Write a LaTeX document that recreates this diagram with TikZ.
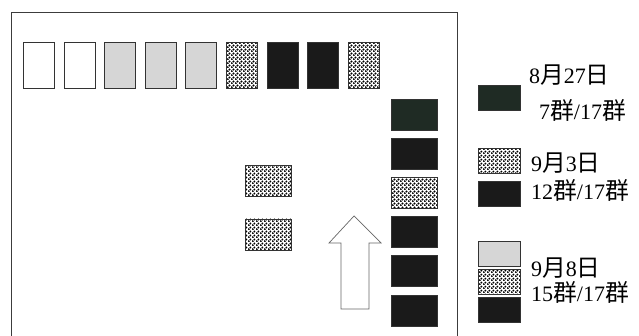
\documentclass[tikz,border=0pt]{standalone}
\usepackage{fontspec}
\setmainfont{Liberation Serif}
\newfontfamily\jpfont[Scale=1.08]{Noto Sans CJK JP}
\newcommand{\jtext}[1]{{\jpfont #1}}
\usepackage{xcolor}
\usepackage{tikz}
\usetikzlibrary{positioning,patterns}
\definecolor{boxBlack}{HTML}{1A1A1A}
\definecolor{boxGreen}{HTML}{1F2B24}
\definecolor{boxStip}{HTML}{D6D6D6}
\definecolor{frameGray}{HTML}{3C3C3C}
\pgfdeclarepatternformonly{checkdots}{\pgfqpoint{0pt}{0pt}}{\pgfqpoint{3.6pt}{3.6pt}}{\pgfqpoint{3.6pt}{3.6pt}}{%
  \pgfpathcircle{\pgfqpoint{0.9pt}{0.9pt}}{1.15pt}%
  \pgfpathcircle{\pgfqpoint{2.7pt}{2.7pt}}{1.15pt}%
  \pgfusepath{fill}}

\begin{document}
\begin{tikzpicture}[
  x=1pt,y=-1pt,
  tall/.style={draw=black!80,line width=0.6pt,inner sep=0pt,
    minimum width=31pt,minimum height=46pt},
  wide/.style={draw=black!80,line width=0.6pt,inner sep=0pt,
    minimum width=46pt,minimum height=31pt},
  key/.style={draw=black!80,line width=0.6pt,inner sep=0pt,
    minimum width=42pt,minimum height=25pt},
  blank/.style={fill=white},
  stip/.style={fill=boxStip},
  check/.style={pattern=checkdots,pattern color=black},
  solid/.style={fill=boxBlack},
  dgreen/.style={fill=boxGreen},
  lbl/.style={anchor=west,inner sep=0pt,font=\fontsize{22}{25}\selectfont},
  frame/.style={draw=frameGray,line width=0.9pt},
  uparrow/.style={draw=black!60,line width=0.7pt,fill=white}
]
\useasboundingbox (0,0) rectangle (639,336);
\draw[frame] (11,336) -- (11,12) -- (457,12) -- (457,336);

% top row
\node[tall,blank,anchor=north west] (t1) at (23,42) {};
\node[tall,blank,right=9pt of t1] (t2) {};
\node[tall,stip,right=9pt of t2] (t3) {};
\node[tall,stip,right=9pt of t3] (t4) {};
\node[tall,stip,right=9pt of t4] (t5) {};
\node[tall,check,right=9pt of t5] (t6) {};
\node[tall,solid,right=9pt of t6] (t7) {};
\node[tall,solid,right=9pt of t7] (t8) {};
\node[tall,check,right=9pt of t8] (t9) {};

% right column
\node[wide,dgreen,anchor=north west] (r1) at (391,99) {};
\node[wide,solid,below=7.5pt of r1] (r2) {};
\node[wide,check,below=7.5pt of r2] (r3) {};
\node[wide,solid,below=7.5pt of r3] (r4) {};
\node[wide,solid,below=7.5pt of r4] (r5) {};
\node[wide,solid,below=7.5pt of r5] (r6) {};

% middle pair
\node[wide,check,anchor=north west] (m1) at (245,165) {};
\node[wide,check,below=22pt of m1] (m2) {};

% arrow
\coordinate (tip) at (354,216);
\draw[uparrow] (tip) -- ++(27,27) -- ++(-12,0) -- ++(0,66) -- ++(-28,0)
  -- ++(0,-66) -- ++(-12,0) -- cycle;

% legend
\node[key,dgreen,anchor=north west] (k1) at (478,85) {};
\node[key,check,anchor=north west] (k2) at (478,148) {};
\node[key,solid,below=7pt of k2] (k3) {};
\node[key,stip,anchor=north west] (k4) at (478,241) {};
\node[key,check,below=2.5pt of k4] (k5) {};
\node[key,solid,below=2.5pt of k5] (k6) {};

\node[lbl] (d1) at (529,75) {8\jtext{月}27\jtext{日}};
\node[lbl] (n1) at (539,110) {7\jtext{群}/17\jtext{群}};
\node[lbl] (d2) at (531,163) {9\jtext{月}3\jtext{日}};
\node[lbl] (n2) at (531,190) {12\jtext{群}/17\jtext{群}};
\node[lbl] (d3) at (531,268) {9\jtext{月}8\jtext{日}};
\node[lbl] (n3) at (531,292) {15\jtext{群}/17\jtext{群}};
\end{tikzpicture}
\end{document}
